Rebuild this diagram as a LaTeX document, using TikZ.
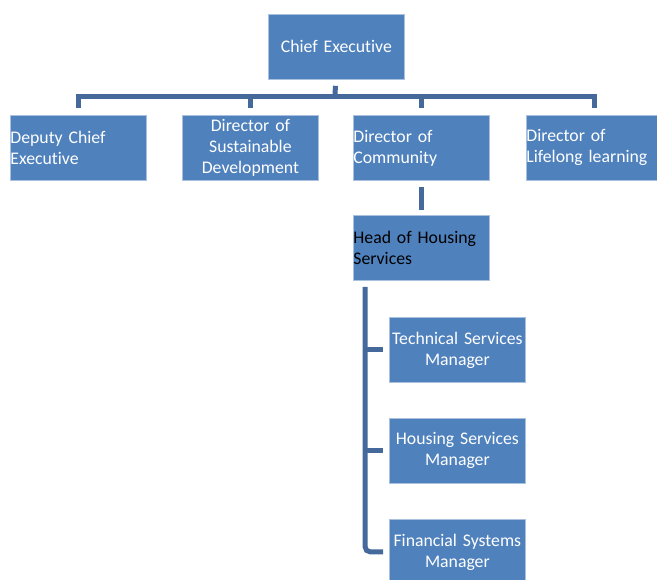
\documentclass[tikz,border=0pt]{standalone}
\usepackage{fontspec}
\setmainfont{Carlito}[Ligatures=NoCommon, WordSpace=0.85]
\usetikzlibrary{calc}
\definecolor{boxfill}{HTML}{4F81BD}
\definecolor{boxline}{HTML}{A9C0DE}
\definecolor{conncol}{HTML}{44699A}
\begin{document}
\begin{tikzpicture}[x=0.75pt,y=-0.75pt,
  box/.style={draw=boxline, line width=0.6pt, fill=boxfill, text=white,
    minimum width=102pt, minimum height=48.75pt, text width=102pt,
    inner sep=0pt, font=\fontsize{13.3}{15.75}\selectfont, anchor=north west},
  lbox/.style={box, align=left},
  cbox/.style={box, align=center},
  conn/.style={draw=conncol, line width=3.75pt}]
\useasboundingbox (0,0) rectangle (657,579);
% top level
\node[cbox] (ce) at (268,14) {Chief Executive};
% directors
\node[lbox] (dep)  at (10,115)  {Deputy Chief\\Executive};
\node[cbox] (sus)  at (182,115) {Director of\\Sustainable\\Development};
\node[lbox] (com)  at (353,115) {Director of\\Community};
\node[lbox] (life) at (526,115) {Director of\\Lifelong learning};
% housing
\node[lbox, text=black] (head) at (353,215) {Head of Housing\\Services};
\node[cbox] (tsm) at (389,317) {Technical Services\\Manager};
\node[cbox] (hsm) at (389,418) {Housing Services\\Manager};
\node[cbox] (fsm) at (389,519) {Financial Systems\\Manager};
% connectors
\coordinate (bus) at (335,96);
\draw[conn] ($(ce.south)+(-1,6)$) -- (bus);
\draw[conn] ($(dep.north)+(0,-7)$) |- (bus) -| ($(life.north)+(0,-7)$);
\draw[conn] ($(sus.north)+(0,-7)$) -- (sus.north |- bus);
\draw[conn] ($(com.north)+(0,-7)$) -- (com.north |- bus);
\draw[conn] ($(com.south)+(0,6)$) -- ($(head.north)+(0,-5)$);
\coordinate (vl) at ($(head.south west)+(12,6)$);
\draw[conn, rounded corners=4] (vl) |- ($(fsm.west)+(-6,0)$);
\draw[conn] (vl |- tsm.west) -- ($(tsm.west)+(-6,0)$);
\draw[conn] (vl |- hsm.west) -- ($(hsm.west)+(-6,0)$);
\end{tikzpicture}
\end{document}
